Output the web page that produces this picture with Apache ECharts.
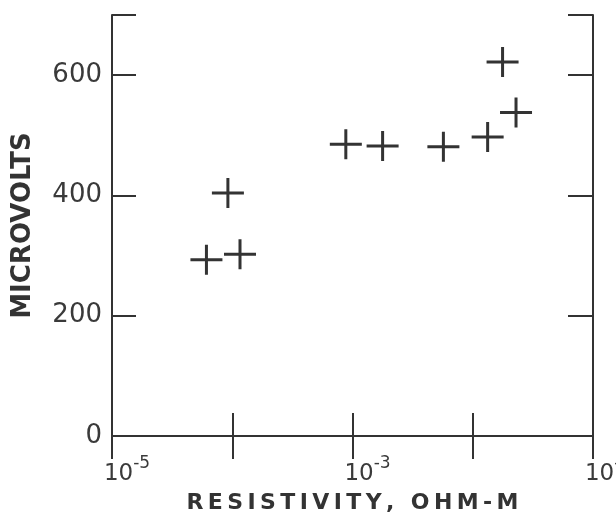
<!DOCTYPE html>
<html>
<head>
<meta charset="utf-8">
<script src="https://cdn.jsdelivr.net/npm/echarts@6/dist/echarts.min.js"></script>
<style>html,body{margin:0;padding:0;background:#fff}#c{width:616px;height:528px}</style>
</head>
<body>
<div id="c"></div>
<script>
// Data
var resistivity = [6.1e-5, 9.2e-5, 1.16e-4, 8.8e-4, 1.78e-3, 5.7e-3, 1.33e-2, 1.77e-2, 2.29e-2];
var microvolts  = [293, 404, 302, 485, 482, 481, 497, 622, 538];
var xLabelExponents = [-5, -3, -1];
var yTickValues = [0, 200, 400, 600];
var xTitle = 'RESISTIVITY, OHM-M';
var yTitle = 'MICROVOLTS';

var ink = '#333';
var points = resistivity.map(function (r, i) { return [r, microvolts[i]]; });
var spaced = function (s) { return s.split('').join('\u2009'); };

var chart = echarts.init(document.getElementById('c'), null, { renderer: 'canvas' });
chart.setOption({
  backgroundColor: '#fff',
  animation: false,
  grid: { left: 112, right: 23, top: 15, bottom: 92, containLabel: false, outerBoundsMode: 'none' },
  xAxis: [{
    type: 'log', logBase: 10, min: 1e-5, max: 1e-1, interval: 1,
    position: 'bottom',
    name: spaced(xTitle), nameLocation: 'middle', nameGap: 56,
    nameTextStyle: { fontFamily: 'DejaVu Sans', fontSize: 22, fontWeight: 'bold', color: ink },
    axisLine: { show: true, lineStyle: { color: ink, width: 2 } },
    axisTick: { show: true, inside: true, length: 23, lineStyle: { color: ink, width: 2 } },
    splitLine: { show: false },
    axisLabel: {
      margin: 19,
      hideOverlap: false,
      formatter: function (v) {
        var e = Math.round(Math.log10(v));
        if (xLabelExponents.indexOf(e) < 0) return '';
        return '{p|}{a|10}{b|' + e + '}';
      },
      rich: {
        p: { width: 30 },
        a: { fontFamily: 'DejaVu Sans', fontSize: 23, color: '#3a3a3a', verticalAlign: 'bottom' },
        b: { fontFamily: 'DejaVu Sans', fontSize: 17, color: '#3a3a3a', padding: [0, 0, 14, 0], verticalAlign: 'bottom' }
      }
    }
  }, {
    type: 'log', logBase: 10, min: 1e-5, max: 1e-1, interval: 1,
    position: 'top',
    axisLine: { show: true, lineStyle: { color: ink, width: 2 } },
    axisTick: { show: true, inside: true, length: 23, lineStyle: { color: ink, width: 2 } },
    axisLabel: { show: false },
    splitLine: { show: false }
  }],
  yAxis: [{
    type: 'value', min: 0, max: 700, interval: 200,
    position: 'left',
    name: yTitle, nameLocation: 'middle', nameGap: 76,
    nameTextStyle: { fontFamily: 'DejaVu Sans', fontSize: 26, fontWeight: 'bold', color: ink },
    axisLine: { show: true, lineStyle: { color: ink, width: 2 } },
    axisTick: { show: true, inside: true, length: 24, lineStyle: { color: ink, width: 2 } },
    splitLine: { show: false },
    axisLabel: {
      margin: 10, fontFamily: 'DejaVu Sans', fontSize: 26, color: '#3a3a3a',
      formatter: function (v) { return yTickValues.indexOf(v) >= 0 ? String(v) : ''; }
    }
  }, {
    type: 'value', min: 0, max: 700, interval: 200,
    position: 'right',
    axisLine: { show: true, lineStyle: { color: ink, width: 2 } },
    axisTick: { show: true, inside: true, length: 25, lineStyle: { color: ink, width: 2 } },
    axisLabel: { show: false },
    splitLine: { show: false }
  }],
  series: [{
    type: 'scatter',
    xAxisIndex: 0, yAxisIndex: 0,
    data: points,
    symbol: 'path://M0,13.5H32V16.5H0Z M14.5,0H17.5V30H14.5Z',
    symbolSize: [32, 30],
    symbolKeepAspect: false,
    itemStyle: { color: ink, opacity: 1 }
  }]
});
</script>
</body>
</html>
